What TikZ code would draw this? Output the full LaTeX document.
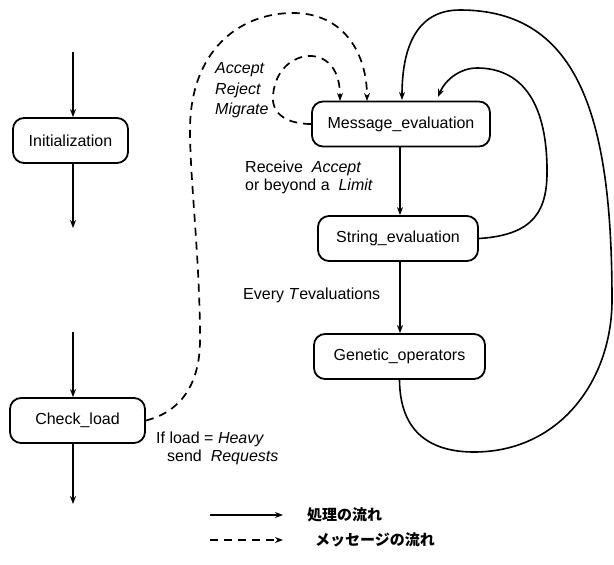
\documentclass[tikz,border=0pt]{standalone}
\usepackage{fontspec}
\setmainfont{Liberation Sans}
\newfontfamily\jpfont{Noto Sans CJK JP}
\usetikzlibrary{arrows.meta}
\begin{document}
\begin{tikzpicture}[x=1pt,y=-1pt,
  every node/.style={font=\fontsize{16}{19}\selectfont},
  box/.style={draw,line width=1.8pt,rounded corners=11pt,minimum height=45pt,inner sep=0pt},
  flow/.style={line width=1.6pt,-{Stealth[length=8pt,width=6pt]}},
  msg/.style={line width=1.7pt,dash pattern=on 8pt off 6pt,-{Stealth[length=8pt,width=6pt]}},
  lbl/.style={inner sep=0pt,anchor=west}]
\useasboundingbox (0,0) rectangle (614,565);

% boxes
\node[box,minimum width=115pt] (init) at (70.5,140.5) {Initialization};
\node[box,minimum width=135pt] (cl) at (77.5,420.5) {Check\_load};
\node[box,minimum width=178pt] (me) at (401,124) {Message\_evaluation};
\node[box,minimum width=160pt] (se) at (398,238.5) {String\_evaluation};
\node[box,minimum width=171pt] (go) at (399.5,356.5) {Genetic\_operators};

% free ends
\coordinate (i0) at (73,52);
\coordinate (i1) at (73,228);
\coordinate (c0) at (73,332);
\coordinate (c1) at (73,504);
\coordinate (d1) at (340,101);
\coordinate (d2) at (367,101);
\coordinate (s1) at (402,100);
\coordinate (s2) at (438,97);

% left flow
\draw[flow] (i0) -- (i0 |- init.north);
\draw[flow] (i0 |- init.south) -- (i1);
\draw[flow] (c0) -- (c0 |- cl.north);
\draw[flow] (c0 |- cl.south) -- (c1);

% right flow
\draw[flow] (400,146) coordinate (m0) -- (m0 |- se.north);
\draw[flow] (400,261) coordinate (g0) -- (g0 |- go.north);

% solid loops
\draw[flow] (se.east) .. controls (535,235) and (548,210) .. (547,167)
  .. controls (546,100) and (520,68) .. (477,68)
  .. controls (460,68) and (445,80) .. (s2);
\draw[flow] (go.south) .. controls (400,440) and (440,452) .. (474,452)
  .. controls (560,452) and (612,380) .. (612,300)
  .. controls (612,120) and (580,10) .. (460,10)
  .. controls (415,10) and (402,50) .. (s1);

% dashed message flows
\draw[msg] (me.west) .. controls (290,124) and (271,116) .. (273,95)
  .. controls (276,65) and (298,55) .. (312,56)
  .. controls (332,58) and (340,75) .. (d1);
\draw[msg] (cl.east) .. controls (180,412) and (200,385) .. (200,340)
  .. controls (200,260) and (190,180) .. (190,130)
  .. controls (190,50) and (240,13) .. (293,13)
  .. controls (345,13) and (367,55) .. (d2);

% labels
\node[lbl] (la1) at (215,70) {\itshape Accept};
\node[lbl] (la2) at (215,90) {\itshape Reject};
\node[lbl] (la3) at (215,110) {\itshape Migrate};
\node[lbl] (lr1) at (245,168) {Receive\ \ \textit{Accept}};
\node[lbl] (lr2) at (245,186) {or beyond a\ \ \textit{Limit}};
\node[lbl] (le) at (243,295) {Every \textit{T}evaluations};
\node[lbl] (lh1) at (156,439) {If load = \textit{Heavy}};
\node[lbl] (lh2) at (167,457) {send\ \ \textit{Requests}};

% legend
\coordinate (ls0) at (210,515);
\coordinate (ls1) at (283,515);
\coordinate (ld0) at (210,540);
\coordinate (ld1) at (283,540);
\draw[flow] (ls0) -- (ls1);
\draw[msg] (ld0) -- (ld1);
\node[lbl,font=\jpfont\bfseries\fontsize{15}{18}\selectfont] (lj1) at (307,515) {処理の流れ};
\node[lbl,font=\jpfont\bfseries\fontsize{15}{18}\selectfont] (lj2) at (315,540) {メッセージの流れ};
\end{tikzpicture}
\end{document}
